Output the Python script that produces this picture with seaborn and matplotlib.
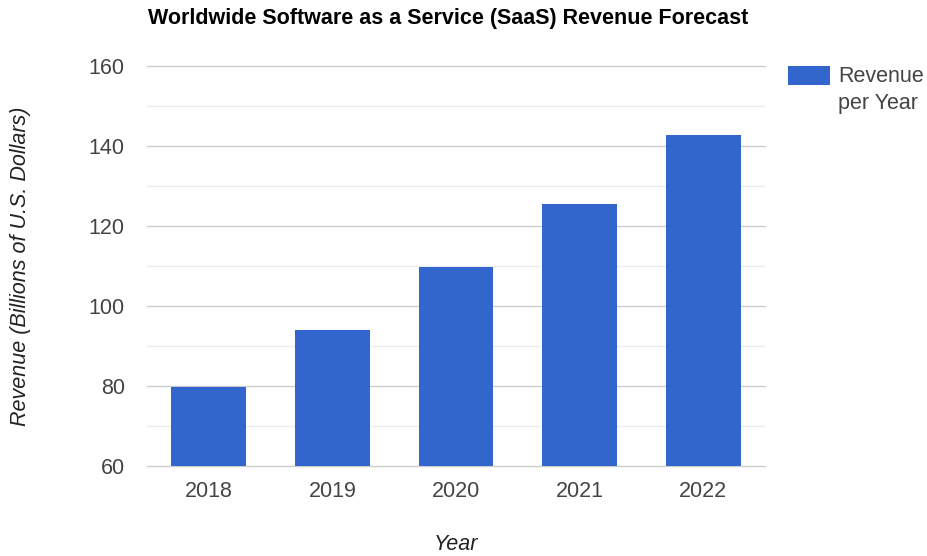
import matplotlib
matplotlib.use("Agg")
import matplotlib.pyplot as plt
from matplotlib.patches import Patch
from matplotlib.ticker import MultipleLocator
import pandas as pd
import seaborn as sns

# Forecast revenue per year, billions of U.S. dollars
years = ["2018", "2019", "2020", "2021", "2022"]
revenue = [79.8, 93.9, 109.8, 125.6, 142.7]
y_ticks = [60, 80, 100, 120, 140, 160]

title = "Worldwide Software as a Service (SaaS) Revenue Forecast"
x_title = "Year"
y_title = "Revenue (Billions of U.S. Dollars)"
series_name = "Revenue\nper Year"

bar_color = "#3366cc"
text_color = "#444444"
font_size = 15.5

sns.set_theme(style="white")
plt.rcParams["font.family"] = ["Liberation Sans", "DejaVu Sans"]

df = pd.DataFrame({"year": years, "revenue": revenue})

fig = plt.figure(figsize=(9.27, 5.56), dpi=100)
fig.subplots_adjust(left=147 / 927, right=765 / 927, top=1 - 66 / 556, bottom=1 - 466 / 556)
ax = fig.add_subplot(111)

sns.barplot(data=df, x="year", y="revenue", color=bar_color, saturation=1,
            width=0.606, linewidth=0, ax=ax, zorder=3)

ax.set_xlim(-0.5, len(years) - 0.5)
ax.set_ylim(y_ticks[0], y_ticks[-1])
ax.set_yticks(y_ticks)
ax.yaxis.set_minor_locator(MultipleLocator(10))
ax.grid(axis="y", which="major", color="#cccccc", linewidth=1.0, zorder=0)
ax.grid(axis="y", which="minor", color="#ebebeb", linewidth=1.0, zorder=0)
ax.grid(axis="x", visible=False)
ax.set_axisbelow(True)
for line in ax.get_ygridlines():
    line.set_clip_on(False)
for s in ax.spines.values():
    s.set_visible(False)

ax.tick_params(axis="both", which="both", length=0, labelsize=font_size, labelcolor=text_color)
ax.tick_params(axis="y", pad=16)
ax.tick_params(axis="x", pad=11)

ax.set_title(title, fontsize=font_size, fontweight="bold", color="#000000",
             x=(448.5 - 147) / 618, pad=30)
ax.set_xlabel(x_title, fontsize=font_size, style="italic", color="#222222")
ax.set_ylabel(y_title, fontsize=font_size, style="italic", color="#222222")
ax.xaxis.set_label_coords(0.5, -(534 - 466) / 400)
ax.yaxis.set_label_coords((31 - 147) / 618, 0.5)

handle = Patch(facecolor=bar_color, edgecolor="none")
leg = ax.legend([handle], [series_name], loc="upper left",
                bbox_to_anchor=(788 / 927, 1 - 66 / 556), bbox_transform=fig.transFigure,
                frameon=False, fontsize=font_size, handlelength=1.95, handleheight=1.0,
                handletextpad=0.38, borderaxespad=0, borderpad=0, labelspacing=0)
for t in leg.get_texts():
    t.set_color(text_color)
    t.set_linespacing(1.4)
# keep the swatch level with the first line of the label
for col in leg._legend_handle_box.get_children():
    for item in col.get_children():
        item.align = "top"

fig.savefig("out.png", dpi=100)
